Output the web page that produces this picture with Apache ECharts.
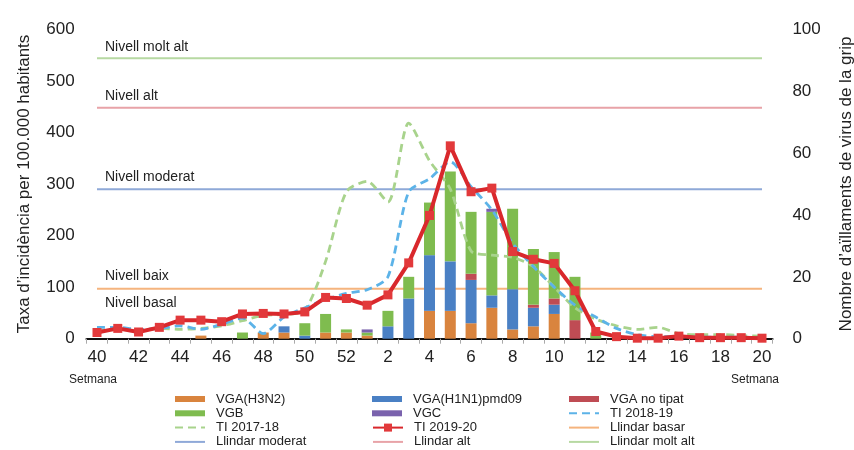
<!DOCTYPE html>
<html><head><meta charset="utf-8">
<script src="https://cdn.jsdelivr.net/npm/echarts@6/dist/echarts.min.js"></script>
<style>html,body{margin:0;padding:0;background:#fff}#c{width:854px;height:450px}</style>
</head><body><div id="c"></div>
<script>
// Weeks (category axis)
const weeks = ['40','41','42','43','44','45','46','47','48','49','50','51','52',
  '1','2','3','4','5','6','7','8','9','10','11','12','13','14','15','16','17','18','19','20'];

// Virus isolations (right axis), stacked
const vgaH3N2 = [0,0,0,0,0,1,0,0,2,2,0,2,2, 1,0,0,9,9,5,10,3,4,8,0,0,0,0,0,0,0,0,0,0];
const vgaH1N1 = [0,0,0,0,0,0,0,0,0,2,1,0,0, 0,4,13,18,16,14,4,13,6,3,0,0,0,0,0,0,0,0,0,0];
const vgaNoTip = [0,0,0,0,0,0,0,0,0,0,0,0,0, 0,0,0,0,0,2,0,0,1,2,6,0,0,0,0,0,0,0,0,0];
const vgb     = [0,0,0,0,0,0,0,2,0,0,4,6,1, 1,5,7,17,29,20,27,26,18,15,14,2,0,0,0,0,0,0,0,0];
const vgc     = [0,0,0,0,0,0,0,0,0,0,0,0,0, 1,0,0,0,0,0,1,0,0,0,0,0,0,0,0,0,0,0,0,0];

// Incidence rates (left axis)
const ti1718 = [15,18,16,20,18,20,25,35,45,47,55,150,285, 305,265,418,345,290,170,162,158,140,100,60,38,25,18,22,10,8,8,6,5];
const ti1819 = [22,22,18,20,25,18,28,40,10,42,60,76,88, 95,120,285,310,343,295,250,185,140,100,65,42,20,8,4,4,3,3,3,2];
const ti1920 = [12,20,13,22,36,36,33,48,49,48,52,80,78, 65,85,147,239,374,285,292,169,154,146,93,14,4,1,1,5,2,2,2,1];

// Thresholds (left axis)
const llindarBasal = 97;
const llindarModerat = 290;
const llindarAlt = 448;
const llindarMoltAlt = 544;

// Tick values
const leftTicks = {min: 0, max: 600, interval: 100};
const rightTicks = {min: 0, max: 100, interval: 20};

const FONT = "'Liberation Sans', Arial, sans-serif";
const flat = v => weeks.map(() => v);

const chart = echarts.init(document.getElementById('c'), null, {renderer: 'canvas'});

function barSeries(name, data, color) {
  return {name, type: 'bar', stack: 'v', yAxisIndex: 1, data, barWidth: 11,
    itemStyle: {color}, z: 3, emphasis: {disabled: true}};
}
function thrSeries(name, v, color) {
  return {name, type: 'line', yAxisIndex: 0, data: flat(v), symbol: 'none', silent: true,
    lineStyle: {color, width: 2}, itemStyle: {color}, z: 2};
}
function dashSeries(name, data, color) {
  return {name, type: 'line', yAxisIndex: 0, data, symbol: 'none', smooth: 0.25,
    lineStyle: {color, width: 2.8, type: [8, 5]}, itemStyle: {color}, z: 4};
}

const ROW = 14.3, TOP = 392;
function leg(left, row, data, extra) {
  return Object.assign({
    orient: 'vertical', left, top: TOP + row * ROW, padding: 0,
    itemWidth: 30, itemHeight: 6, itemGap: 0.3,
    textStyle: {fontFamily: FONT, fontSize: 13, color: '#222', lineHeight: 14, padding: [0, 0, 0, 6]},
    selectedMode: false, data
  }, extra || {});
}
const L = name => ({name, itemStyle: {opacity: 0}});
const B = name => ({name, icon: 'rect'});

chart.setOption({
  animation: false,
  backgroundColor: '#fff',
  grid: {left: 86.6, right: 81.6, top: 29.3, bottom: 111.3, outerBoundsMode: 'none', containLabel: false},
  xAxis: [{
    type: 'category', data: weeks, boundaryGap: true,
    axisLine: {lineStyle: {color: '#111', width: 2}},
    axisTick: {show: true, interval: 0, length: 5, lineStyle: {color: '#aaa'}},
    axisLabel: {interval: 1, fontFamily: FONT, fontSize: 17, color: '#222', margin: 10}
  }, {
    type: 'category', data: weeks, position: 'top', boundaryGap: true,
    axisLine: {show: true, lineStyle: {color: '#111', width: 2}},
    axisTick: {show: false}, axisLabel: {show: false}
  }],
  yAxis: [{
    type: 'value', position: 'left', ...leftTicks,
    axisLine: {show: false}, axisTick: {show: false}, splitLine: {show: false},
    axisLabel: {fontFamily: FONT, fontSize: 17, color: '#222', margin: 12},
    name: "Taxa d\u2019incid\u00e8ncia per 100.000 habitants", nameLocation: 'middle', nameGap: 54,
    nameTextStyle: {fontFamily: FONT, fontSize: 17, color: '#222'}
  }, {
    type: 'value', position: 'right', ...rightTicks,
    axisLine: {show: false}, axisTick: {show: false}, splitLine: {show: false},
    axisLabel: {fontFamily: FONT, fontSize: 17, color: '#222', margin: 20},
    name: "Nombre d\u2019a\u00efllaments de virus de la grip", nameLocation: 'middle', nameGap: 65,
    nameTextStyle: {fontFamily: FONT, fontSize: 17, color: '#222'}
  }],
  legend: [
    leg(174, 0, [B('VGA(H3N2)'), B('VGB'), L('TI 2017-18'), L('Llindar moderat')]),
    leg(372, 0, [B('VGA(H1N1)pmd09'), B('VGC')]),
    leg(372, 2, ['TI 2019-20'], {itemHeight: 10}),
    leg(372, 3, [L('Llindar alt')]),
    leg(568, 0, [B('VGA no tipat'), L('TI 2018-19'), L('Llindar basar'), L('Llindar molt alt')])
  ],
  series: [
    thrSeries('Llindar basar', llindarBasal, '#f5b47e'),
    thrSeries('Llindar moderat', llindarModerat, '#8fa9d8'),
    thrSeries('Llindar alt', llindarAlt, '#e8a3a8'),
    thrSeries('Llindar molt alt', llindarMoltAlt, '#b7d9a2'),
    barSeries('VGA(H3N2)', vgaH3N2, '#d9843e'),
    barSeries('VGA(H1N1)pmd09', vgaH1N1, '#4a80c4'),
    barSeries('VGA no tipat', vgaNoTip, '#bf4c54'),
    barSeries('VGB', vgb, '#7fbc4f'),
    barSeries('VGC', vgc, '#7a62ad'),
    dashSeries('TI 2017-18', ti1718, '#a8d38c'),
    dashSeries('TI 2018-19', ti1819, '#5cb3e8'),
    {name: 'TI 2019-20', type: 'line', yAxisIndex: 0, data: ti1920, symbol: 'rect', symbolSize: 9,
      lineStyle: {color: '#d9282c', width: 4}, itemStyle: {color: '#e2393b'}, z: 5}
  ],
  graphic: [
    {type: 'text', left: 105, top: 40, style: {text: 'Nivell molt alt', font: "14px " + FONT, fill: '#222'}},
    {type: 'text', left: 105, top: 89, style: {text: 'Nivell alt', font: "14px " + FONT, fill: '#222'}},
    {type: 'text', left: 105, top: 170, style: {text: 'Nivell moderat', font: "14px " + FONT, fill: '#222'}},
    {type: 'text', left: 105, top: 269, style: {text: 'Nivell baix', font: "14px " + FONT, fill: '#222'}},
    {type: 'text', left: 105, top: 296, style: {text: 'Nivell basal', font: "14px " + FONT, fill: '#222'}},
    {type: 'text', left: 69, top: 374, style: {text: 'Setmana', font: "12px " + FONT, fill: '#222'}},
    {type: 'text', left: 731, top: 374, style: {text: 'Setmana', font: "12px " + FONT, fill: '#222'}}
  ]
});
</script>
</body></html>
